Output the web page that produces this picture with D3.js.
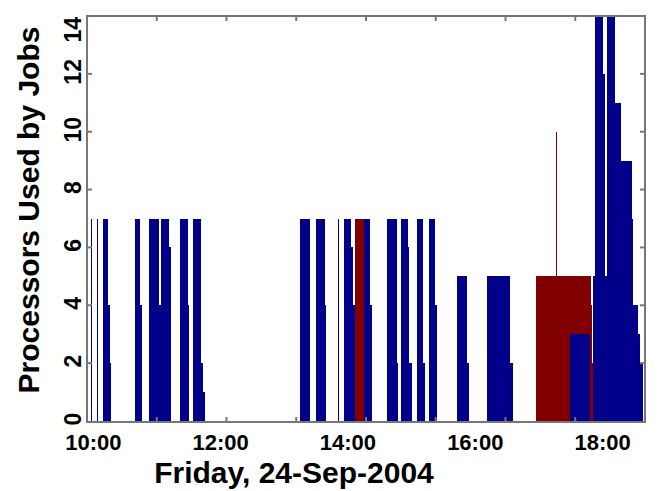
<!DOCTYPE html>
<html>
<head>
    <script src="https://d3js.org/d3.v7.min.js"></script>
    <style>
        body { margin: 0; background: #fff; }
        text { font-family: "Liberation Sans", Arial, sans-serif; font-weight: bold; fill: #000; }
        .job { shape-rendering: crispEdges; }
    </style>
</head>
<body>
    <div id="chart"></div>
    <script>
        // job segments: [start, end, processors]
        const blueJobs = [
            ["09:54", "09:55", 7], ["09:58", "09:59", 7], ["10:03", "10:04", 7],
            ["10:09", "10:14", 7], ["10:14", "10:16", 4], ["10:16", "10:17", 2],
            ["10:39", "10:44", 7], ["10:44", "10:46", 4],
            ["10:52", "11:02", 7], ["11:02", "11:04", 4], ["11:04", "11:11", 7], ["11:11", "11:13", 6],
            ["11:22", "11:29", 7], ["11:29", "11:30", 4],
            ["11:34", "11:41", 7], ["11:41", "11:43", 2], ["11:43", "11:45", 1],
            ["13:15", "13:24", 7],
            ["13:30", "13:38", 7], ["13:38", "13:39", 4],
            ["13:51", "13:52", 7],
            ["13:56", "14:03", 7], ["14:03", "14:05", 6], ["14:05", "14:07", 4],
            ["14:15", "14:21", 7], ["14:21", "14:23", 4],
            ["14:37", "14:46", 7], ["14:46", "14:47", 2],
            ["14:50", "14:57", 7], ["14:57", "14:58", 6], ["14:58", "15:00", 2],
            ["15:05", "15:11", 7], ["15:11", "15:13", 2],
            ["15:16", "15:22", 7], ["15:22", "15:24", 4],
            ["15:43", "15:52", 5], ["15:52", "15:54", 2],
            ["16:11", "16:33", 5], ["16:33", "16:36", 2],
            ["17:29", "17:48", 3],
            ["17:51", "17:53", 5], ["17:53", "18:00", 15], ["18:00", "18:02", 12], ["18:02", "18:04", 5],
            ["18:04", "18:12", 15], ["18:12", "18:17", 11], ["18:17", "18:28", 9], ["18:28", "18:29", 7],
            ["18:29", "18:33", 4], ["18:33", "18:35", 3], ["18:35", "18:38", 2]
        ];
        const redJobs = [
            ["14:07", "14:15", 7],
            ["16:57", "17:49", 5], ["17:16", "17:17", 10], ["17:49", "17:50", 4], ["17:50", "17:51", 2]
        ];
        const xTickLabels = ["10:00", "12:00", "14:00", "16:00", "18:00"];
        const yTicks = [0, 2, 4, 6, 8, 10, 12, 14];

        const width = 665, height = 491;
        const parse = d3.timeParse("%H:%M");

        const svg = d3.select("#chart").append("svg")
            .attr("width", width)
            .attr("height", height);

        const x = d3.scaleTime()
            .domain([parse("09:54"), parse("18:40")])
            .range([87, 645]);

        const y = d3.scaleLinear()
            .domain([0, 14])
            .range([421, 16]);

        svg.append("clipPath").attr("id", "plot")
            .append("rect")
            .attr("x", 87).attr("y", 16)
            .attr("width", 558).attr("height", 406);

        const plot = svg.append("g").attr("clip-path", "url(#plot)");

        function drawJobs(data, color) {
            plot.selectAll(null)
                .data(data)
                .enter()
                .append("rect")
                .attr("class", "job")
                .attr("x", d => x(parse(d[0])))
                .attr("width", d => x(parse(d[1])) - x(parse(d[0])))
                .attr("y", d => y(d[2]))
                .attr("height", d => y(0) - y(d[2]) + 1)
                .attr("fill", color);
        }
        drawJobs(redJobs, "#800000");
        drawJobs(blueJobs, "#00008b");

        // frame
        const frame = svg.append("g").attr("stroke", "#777").attr("stroke-width", 2).attr("fill", "none");
        frame.append("rect")
            .attr("x", 87).attr("y", 16)
            .attr("width", 558).attr("height", 406);

        // minor ticks on top and bottom edges, 8 equal steps
        const edgeTicks = d3.range(1, 8).map(i => 87 + i * 558 / 8);
        edgeTicks.forEach(px => {
            frame.append("line").attr("x1", px).attr("x2", px).attr("y1", 16).attr("y2", 21);
            frame.append("line").attr("x1", px).attr("x2", px).attr("y1", 422).attr("y2", 417);
        });
        yTicks.slice(1, -1).forEach(v => {
            frame.append("line").attr("x1", 87).attr("x2", 92).attr("y1", y(v)).attr("y2", y(v));
            frame.append("line").attr("x1", 645).attr("x2", 640).attr("y1", y(v)).attr("y2", y(v));
        });

        // y tick labels (rotated)
        svg.selectAll(".ylab")
            .data(yTicks)
            .enter()
            .append("text")
            .attr("transform", d => `translate(81,${Math.max(y(d) - 2, 17)}) rotate(-90)`)
            .attr("text-anchor", d => d === 14 ? "end" : "middle")
            .attr("font-size", 23)
            .text(d => d);

        // x tick labels
        svg.selectAll(".xlab")
            .data(xTickLabels)
            .enter()
            .append("text")
            .attr("x", d => x(parse(d)))
            .attr("y", 450)
            .attr("text-anchor", "middle")
            .attr("font-size", 22)
            .text(d => d);

        svg.append("text")
            .attr("x", 294)
            .attr("y", 483)
            .attr("text-anchor", "middle")
            .attr("font-size", 30)
            .text("Friday, 24-Sep-2004");

        svg.append("text")
            .attr("transform", "translate(39,210) rotate(-90)")
            .attr("text-anchor", "middle")
            .attr("font-size", 30)
            .text("Processors Used by Jobs");
    </script>
</body>
</html>
